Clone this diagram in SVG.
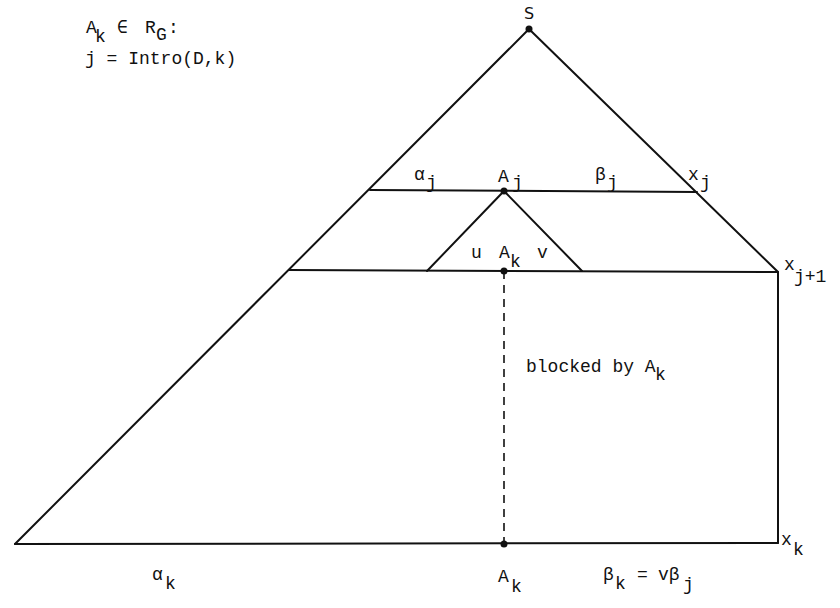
<svg xmlns="http://www.w3.org/2000/svg" width="840" height="608" viewBox="0 0 840 608">
<style>
.l{stroke:#111;stroke-width:2;fill:none;stroke-linecap:round}
.d{stroke:#111;stroke-width:1.6;stroke-dasharray:8,6;fill:none}
.t{font-family:"Liberation Mono","DejaVu Sans Mono",monospace;font-size:18px;fill:#111}
.s{font-family:"DejaVu Sans","Liberation Sans",sans-serif;font-size:16px;fill:#111}
.dot{fill:#111}
</style>
<rect width="840" height="608" fill="#fff"/>
<g id="connectors">
<path class="l" d="M529,29 L15,544"/>
<path class="l" d="M529,29 L778,272 L778,543"/>
<path class="l" d="M15,544 L778,543"/>
<path class="l" d="M370,190 L697,192"/>
<path class="l" d="M289,270 L778,272"/>
<path class="l" d="M427,271 L504,191 L582,271"/>
<path class="d" d="M504,271 L504,544"/>
</g>
<g id="S"><circle class="dot" cx="529" cy="29" r="3.5"/><text class="s" x="529" y="19" text-anchor="middle">S</text></g>
<g id="Aj"><circle class="dot" cx="504" cy="191" r="3.5"/><text class="t" x="498" y="182">A<tspan x="512" dy="6">j</tspan></text></g>
<g id="Ak_mid"><circle class="dot" cx="504" cy="271" r="3.5"/><text class="t" x="499" y="258">A<tspan x="510" dy="9">k</tspan></text></g>
<g id="Ak_bot"><circle class="dot" cx="504" cy="544" r="3.5"/><text class="t" x="498" y="582">A<tspan x="511" dy="10">k</tspan></text></g>
<g id="labels">
<text class="t" x="86" y="33">A<tspan x="95" dy="9">k</tspan><tspan x="117" dy="-9">∈</tspan><tspan x="145">R</tspan><tspan x="156" dy="7">G</tspan><tspan x="168" dy="-7">:</tspan></text>
<text class="t" x="85" y="64">j = Intro(D,k)</text>
<text class="t" x="414" y="180">α<tspan x="426" dy="8">j</tspan></text>
<text class="t" x="595" y="180">β<tspan x="607" dy="8">j</tspan></text>
<text class="t" x="688" y="180">x<tspan x="700" dy="8">j</tspan></text>
<text class="t" x="784" y="270">x<tspan x="794" dy="12">j+1</tspan></text>
<text class="t" x="471" y="258">u</text>
<text class="t" x="537" y="258">v</text>
<text class="t" x="526" y="372">blocked by A<tspan x="655" dy="8">k</tspan></text>
<text class="t" x="781" y="545">x<tspan x="793" dy="10">k</tspan></text>
<text class="t" x="152" y="580">α<tspan x="165" dy="9">k</tspan></text>
<text class="t" x="603" y="580">β<tspan x="615" dy="9">k</tspan><tspan x="637" dy="-9">=</tspan><tspan x="658">vβ</tspan><tspan x="683" dy="10">j</tspan></text>
</g>
</svg>
